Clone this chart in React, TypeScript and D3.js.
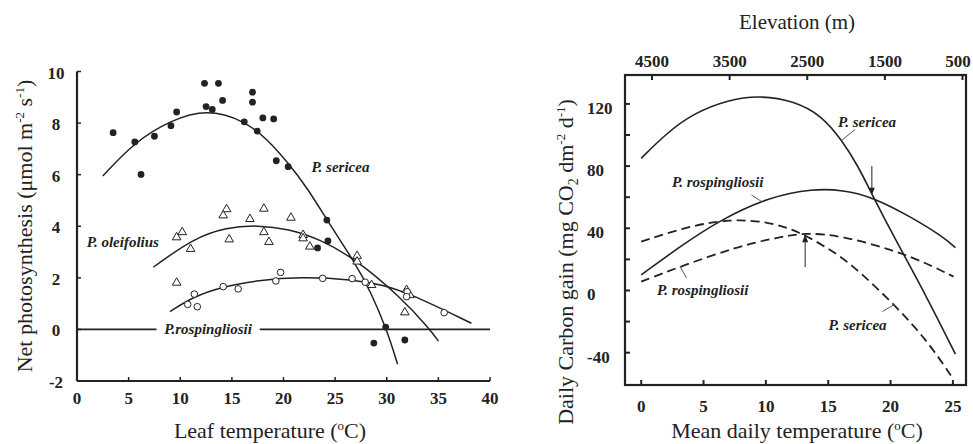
import React from 'react';
import * as d3 from 'd3';

type P = [number, number];

// ---------- Left panel data ----------
const leafTempTicks = [0, 5, 10, 15, 20, 25, 30, 35, 40];
const photoTicks = [-2, 0, 2, 4, 6, 8, 10];

const sericeaObs: P[] = [
  [3.5, 7.63], [5.6, 7.27], [6.2, 6.01], [7.5, 7.49], [9.1, 7.9], [9.65, 8.43],
  [12.35, 9.54], [13.7, 9.54], [12.5, 8.64], [13.1, 8.53], [14.1, 8.88],
  [17.0, 9.2], [17.0, 8.81], [16.2, 8.05], [17.45, 7.69], [18.0, 8.2], [19.05, 8.16],
  [19.3, 6.54], [20.45, 6.31], [24.2, 4.24], [24.3, 3.43], [23.3, 3.16],
  [29.9, 0.09], [28.75, -0.53], [31.75, -0.41],
];
const oleifoliusObs: P[] = [
  [9.65, 3.57], [10.19, 3.77], [11.0, 3.12], [14.16, 4.42], [14.49, 4.66], [14.74, 3.49],
  [16.75, 4.28], [9.65, 1.81], [18.1, 4.68], [18.1, 3.77], [18.59, 3.39], [20.72, 4.33],
  [21.9, 3.66], [21.9, 3.53], [22.55, 3.21], [27.13, 2.85], [27.13, 2.63], [28.53, 1.72],
  [31.92, 1.53], [32.24, 1.33], [31.75, 0.66],
];
const rospingliosiiObs: P[] = [
  [11.36, 1.37], [10.72, 0.97], [11.65, 0.88], [14.16, 1.66], [15.61, 1.57],
  [19.72, 2.21], [19.26, 1.88], [23.79, 1.98], [26.65, 1.97], [27.91, 1.83],
  [31.98, 1.46], [31.92, 1.27], [35.56, 0.65],
];
const sericeaFit: P[] = [
  [2.5, 5.95], [5.6, 7.27], [9, 8.1], [12.6, 8.55], [16.2, 8.1], [18.5, 7.35],
  [20.45, 6.45], [22.3, 5.5], [24.5, 4.05], [26.9, 2.6], [28.4, 1.5], [30, 0.0], [31.05, -1.35],
];
const oleifoliusFit: P[] = [
  [7.39, 2.41], [11.26, 3.53], [14.5, 3.96], [17.5, 4.04], [20.5, 3.9], [23.5, 3.5],
  [26.9, 2.75], [31.3, 1.27], [34.2, 0.0], [35.0, -0.45],
];
const rospingliosiiFit: P[] = [
  [9.0, 0.69], [11.26, 1.27], [14.16, 1.66], [17.5, 1.9], [21.6, 2.04],
  [26.75, 1.94], [29.65, 1.72], [32.2, 1.4], [38.2, 0.24],
];

// ---------- Right panel data ----------
const meanTempTicks = [0, 5, 10, 15, 20, 25];
const carbonMinorTicks = [-40, -20, 0, 20, 40, 60, 80, 100, 120];
const carbonLabelTicks = [-40, 0, 40, 80, 120];
const elevationTicks = [4500, 3500, 2500, 1500, 500];

const sericeaSolid: P[] = [
  [0, 85], [2, 101], [4.2, 114], [6.9, 122.5], [9.5, 125.5], [12.2, 122], [14.5, 112.5],
  [16.1, 96.5], [17.4, 80], [18.5, 62], [20.2, 35.5], [22.9, -4], [25.2, -41],
];
const rospingliosiiSolid: P[] = [
  [0, 10], [3.1, 28.2], [6.3, 45.3], [10.3, 60.3], [13.8, 65.5], [16.2, 64.6],
  [18.5, 60.3], [21.6, 47.5], [24.2, 34.6], [25.2, 27.5],
];
const sericeaDashed: P[] = [
  [0, 31.4], [3.65, 41], [7.1, 46], [10.3, 44.2], [12.75, 37.5], [14.9, 27.5],
  [16.8, 17.5], [20.2, -8.2], [22.9, -31.8], [24.9, -55.4],
];
const rospingliosiiDashed: P[] = [
  [0, 5.7], [3.1, 15.3], [7.7, 28.2], [10.9, 34], [13.2, 37.3], [16.2, 35],
  [20.2, 26], [22.9, 17.5], [25.05, 8.9],
];

const FONT = "'Liberation Serif', 'Times New Roman', Times, Tinos, 'DejaVu Serif', serif";
const INK = '#222';

export default function App() {
  const xL = d3.scaleLinear().domain([0, 40]).range([77, 490]);
  const yL = d3.scaleLinear().domain([-2, 10]).range([381, 71.5]);
  const xR = d3.scaleLinear().domain([-1.3, 26.05]).range([625, 966]);
  const yR = d3.scaleLinear().domain([-60.8, 138.6]).range([385, 75]);
  const xE = d3.scaleLinear().domain([4500, 500]).range([652, 962.5]);

  const lineL = d3.line<P>().x(d => xL(d[0])).y(d => yL(d[1])).curve(d3.curveBasis);
  const lineR = d3.line<P>().x(d => xR(d[0])).y(d => yR(d[1])).curve(d3.curveBasis);
  const tri = d3.symbol().type(d3.symbolTriangle).size(32)();

  const [l0, l1] = xL.range();
  const [b0, t0] = yL.range();

  const labelStyle = { fontFamily: FONT, fontStyle: 'italic', fontWeight: 'bold', fontSize: 15, fill: INK } as const;
  const tickStyle = { fontFamily: FONT, fontWeight: 'bold', fontSize: 17, fill: INK } as const;
  const titleStyle = { fontFamily: FONT, fontSize: 22, fill: INK } as const;

  return (
    <svg width={973} height={444} style={{ position: 'absolute', left: 0, top: 0, background: '#fff', fontFamily: FONT }}>
      {/* ================= LEFT PANEL ================= */}
      <g>
        <line x1={xL(0)} x2={xL(40)} y1={yL(0)} y2={yL(0)} stroke={INK} strokeWidth={1.6} />
        <rect x={xL(7.7)} y={yL(0) - 8} width={xL(17.7) - xL(7.7)} height={16} fill="#fff" />
        <text x={xL(12.7)} y={yL(0) + 5} textAnchor="middle" style={labelStyle}>P.rospingliosii</text>

        <path d={lineL(sericeaFit) || ''} fill="none" stroke={INK} strokeWidth={1.5} />
        <path d={lineL(oleifoliusFit) || ''} fill="none" stroke={INK} strokeWidth={1.5} />
        <path d={lineL(rospingliosiiFit) || ''} fill="none" stroke={INK} strokeWidth={1.5} />

        {sericeaObs.map((d, i) => (
          <circle key={'s' + i} cx={xL(d[0])} cy={yL(d[1])} r={3.4} fill={INK} />
        ))}
        {oleifoliusObs.map((d, i) => (
          <path key={'o' + i} d={tri || ''} transform={`translate(${xL(d[0])},${yL(d[1])})`} fill="#fff" stroke={INK} strokeWidth={1} />
        ))}
        {rospingliosiiObs.map((d, i) => (
          <circle key={'r' + i} cx={xL(d[0])} cy={yL(d[1])} r={3.3} fill="#fff" stroke={INK} strokeWidth={1} />
        ))}

        <line x1={l0} x2={l0} y1={t0} y2={b0} stroke={INK} strokeWidth={2.2} />
        <line x1={l0} x2={l1} y1={b0} y2={b0} stroke={INK} strokeWidth={2.2} />
        {leafTempTicks.map(t => (
          <g key={'xt' + t}>
            <line x1={xL(t)} x2={xL(t)} y1={b0} y2={b0 - 4} stroke={INK} strokeWidth={1.5} />
            <text x={xL(t)} y={403.5} textAnchor="middle" style={tickStyle}>{t}</text>
          </g>
        ))}
        {photoTicks.map(t => (
          <g key={'yt' + t}>
            <line x1={l0} x2={l0 + 4} y1={yL(t)} y2={yL(t)} stroke={INK} strokeWidth={1.5} />
            <text x={56} y={yL(t) + 7} textAnchor="middle" style={tickStyle}>{t}</text>
          </g>
        ))}

        <text x={xL(22.7)} y={yL(6.12)} style={labelStyle}>P. sericea</text>
        <text x={xL(0.94)} y={yL(3.21)} style={labelStyle}>P. oleifolius</text>

        <text x={270} y={438} textAnchor="middle" style={titleStyle}>
          Leaf temperature (<tspan dy={-8} fontSize={13}>o</tspan><tspan dy={8}>C)</tspan>
        </text>
        <text transform={`translate(32,226) rotate(-90)`} textAnchor="middle" style={titleStyle}>
          Net photosynthesis (μmol m<tspan dy={-8} fontSize={13}>-2</tspan><tspan dy={8}> s</tspan><tspan dy={-8} fontSize={13}>-1</tspan><tspan dy={8}>)</tspan>
        </text>
      </g>

      {/* ================= RIGHT PANEL ================= */}
      <g>
        <path d={lineR(sericeaSolid) || ''} fill="none" stroke={INK} strokeWidth={1.6} />
        <path d={lineR(rospingliosiiSolid) || ''} fill="none" stroke={INK} strokeWidth={1.6} />
        <path d={lineR(sericeaDashed) || ''} fill="none" stroke={INK} strokeWidth={1.8} strokeDasharray="9,5" />
        <path d={lineR(rospingliosiiDashed) || ''} fill="none" stroke={INK} strokeWidth={1.8} strokeDasharray="9,5" />

        <rect x={625} y={75} width={341} height={310} fill="none" stroke={INK} strokeWidth={2.2} />
        {meanTempTicks.map(t => (
          <g key={'rx' + t}>
            <line x1={xR(t)} x2={xR(t)} y1={385} y2={380} stroke={INK} strokeWidth={2} />
            <text x={xR(t)} y={412} textAnchor="middle" style={tickStyle}>{t}</text>
          </g>
        ))}
        {elevationTicks.map(t => (
          <g key={'re' + t}>
            <line x1={xE(t)} x2={xE(t)} y1={75} y2={80} stroke={INK} strokeWidth={2} />
            <text x={Math.min(xE(t), 958)} y={66.5} textAnchor="middle" style={tickStyle}>{t}</text>
          </g>
        ))}
        {carbonMinorTicks.map(t => (
          <line key={'ry' + t} x1={625} x2={630} y1={yR(t)} y2={yR(t)} stroke={INK} strokeWidth={2} />
        ))}
        {carbonLabelTicks.map(t => (
          <text key={'ryl' + t} x={587} y={yR(t) + 10} textAnchor="start" style={tickStyle}>{t}</text>
        ))}

        <line x1={xR(18.5)} x2={xR(18.5)} y1={yR(80)} y2={yR(64)} stroke={INK} strokeWidth={1} />
        <path d={`M${xR(18.5) - 3},${yR(66)} L${xR(18.5) + 3},${yR(66)} L${xR(18.5)},${yR(61.5)} Z`} fill={INK} />
        <line x1={xR(13.15)} x2={xR(13.15)} y1={yR(15)} y2={yR(33)} stroke={INK} strokeWidth={1} />
        <path d={`M${xR(13.15) - 3},${yR(31)} L${xR(13.15) + 3},${yR(31)} L${xR(13.15)},${yR(36)} Z`} fill={INK} />

        <line x1={855} y1={129.5} x2={841.5} y2={140.5} stroke="#555" strokeWidth={1} />
        <line x1={751.5} y1={195} x2={761.5} y2={201.5} stroke="#555" strokeWidth={1} />
        <line x1={680} y1={266.5} x2={686.5} y2={278} stroke="#555" strokeWidth={1} />
        <line x1={893.5} y1={305} x2={882.5} y2={311.5} stroke="#555" strokeWidth={1} />

        <text x={838} y={127} style={labelStyle}>P. sericea</text>
        <text x={672} y={186.5} style={labelStyle}>P. rospingliosii</text>
        <text x={657} y={295} style={labelStyle}>P. rospingliosii</text>
        <text x={828.5} y={329.5} style={labelStyle}>P. sericea</text>

        <text x={797} y={28.5} textAnchor="middle" style={{ ...titleStyle, fontSize: 21 }}>Elevation (m)</text>
        <text x={797} y={438} textAnchor="middle" style={titleStyle}>
          Mean daily temperature (<tspan dy={-8} fontSize={13}>o</tspan><tspan dy={8}>C)</tspan>
        </text>
        <text transform={`translate(573,262) rotate(-90)`} textAnchor="middle" style={titleStyle}>
          Daily Carbon gain (mg CO<tspan dy={5} fontSize={14}>2</tspan><tspan dy={-5}> dm</tspan><tspan dy={-8} fontSize={13}>-2</tspan><tspan dy={8}> d</tspan><tspan dy={-8} fontSize={13}>-1</tspan><tspan dy={8}>)</tspan>
        </text>
      </g>
    </svg>
  );
}
